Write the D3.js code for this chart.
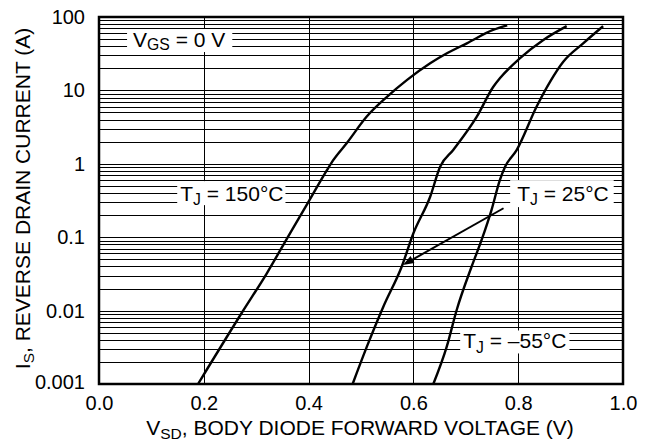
<!DOCTYPE html>
<html>
<head>
<meta charset="utf-8">
<script src="https://cdn.jsdelivr.net/npm/d3@7"></script>
<style>
  html, body { margin: 0; padding: 0; background: #fff; }
  svg { display: block; font-family: "Liberation Sans", Arial, Helvetica, sans-serif; }
</style>
</head>
<body>
<svg id="chart" width="649" height="446"></svg>
<script>
// ---- data ----
const xTicks = [0.0, 0.2, 0.4, 0.6, 0.8, 1.0];
const xTickLabels = ["0.0", "0.2", "0.4", "0.6", "0.8", "1.0"];
const yTicks = [0.001, 0.01, 0.1, 1, 10, 100];
const yTickLabels = ["0.001", "0.01", "0.1", "1", "10", "100"];

// T_J = 150 °C
const v150 = [0.189, 0.272, 0.320, 0.3645, 0.400, 0.435, 0.447, 0.473, 0.511, 0.549, 0.588, 0.632, 0.664, 0.702, 0.752, 0.779];
const i150 = [0.001, 0.0092, 0.032, 0.113, 0.305, 0.82, 1.12, 1.92, 4.4, 8.1, 13.9, 23.4, 32, 43.8, 66.6, 77];
// T_J = 25 °C
const v25 = [0.484, 0.511, 0.5426, 0.5776, 0.600, 0.632, 0.651, 0.676, 0.721, 0.7525, 0.765, 0.803, 0.848, 0.8925];
const i25 = [0.001, 0.0032, 0.0113, 0.0396, 0.113, 0.356, 0.91, 1.54, 4.38, 11.2, 14.6, 27.3, 48.6, 75];
// T_J = -55 °C
const vm55 = [0.638, 0.6635, 0.6826, 0.711, 0.730, 0.749, 0.765, 0.775, 0.797, 0.835, 0.861, 0.886, 0.924, 0.962];
const im55 = [0.001, 0.0032, 0.0102, 0.0396, 0.091, 0.234, 0.60, 0.91, 1.54, 6.0, 13.2, 24.6, 43.8, 75];

// annotation arrow (from label toward 25 °C curve), in data units
const arrowV = [0.772, 0.58];
const arrowI = [0.248, 0.0418];

// ---- layout ----
const W = 649, H = 446;
const margin = { left: 99, top: 17, right: 26, bottom: 62 };
const pw = W - margin.left - margin.right;
const ph = H - margin.top - margin.bottom;

const svg = d3.select("#chart");
const g = svg.append("g").attr("transform", `translate(${margin.left},${margin.top})`);

const x = d3.scaleLinear().domain([0, 1]).range([0, pw]);
const y = d3.scaleLog().domain([0.001, 100]).range([ph, 0]);

// horizontal grid (log minor)
const hGrid = [];
for (let e = -3; e < 2; e++) {
  for (let m = 1; m <= 9; m++) hGrid.push(m * Math.pow(10, e));
}
g.append("g").selectAll("line").data(hGrid).join("line")
  .attr("x1", 0).attr("x2", pw)
  .attr("y1", d => Math.round(y(d)) + 0.5).attr("y2", d => Math.round(y(d)) + 0.5)
  .attr("stroke", "#000").attr("stroke-width", 1);

// vertical grid
g.append("g").selectAll("line").data(xTicks.slice(1, -1)).join("line")
  .attr("x1", d => Math.round(x(d)) + 0.5).attr("x2", d => Math.round(x(d)) + 0.5)
  .attr("y1", 0).attr("y2", ph)
  .attr("stroke", "#000").attr("stroke-width", 1);

// label helper with white background box
function label(parts, vx, iy, size, padL, padR, boxTop, boxBottom) {
  const grp = g.append("g");
  const rect = grp.append("rect").attr("fill", "#fff");
  const t = grp.append("text")
    .attr("x", x(vx)).attr("y", y(iy))
    .attr("font-size", size).attr("fill", "#000");
  parts.forEach(p => {
    if (p.sub) {
      t.append("tspan").attr("font-size", size * p.sub).attr("dy", size * p.drop).text(p.t);
    } else {
      t.append("tspan").attr("dy", p.up ? -size * p.up : 0).text(p.t);
    }
  });
  const bb = t.node().getBBox();
  rect.attr("x", bb.x - padL).attr("width", bb.width + padL + padR)
      .attr("y", y(iy) - boxTop).attr("height", boxTop + boxBottom);
}

const lineGen = d3.line().x(d => x(d[0])).y(d => y(d[1])).curve(d3.curveMonotoneX);
const series = [d3.zip(v150, i150), d3.zip(v25, i25), d3.zip(vm55, im55)];

label([{t: "V"}, {t: "GS", sub: 0.75, drop: 0.12}, {t: " = 0 V", up: 0.12}], 0.065, 39, 21, 6, 7, 18, 5);
label([{t: "T"}, {t: "J", sub: 0.75, drop: 0.2}, {t: " = 150°C", up: 0.2}], 0.155, 0.31, 21, 3, 2, 20, 4);
label([{t: "T"}, {t: "J", sub: 0.75, drop: 0.2}, {t: " = 25°C", up: 0.2}], 0.798, 0.31, 21, 7, 5, 21, 6);
label([{t: "T"}, {t: "J", sub: 0.75, drop: 0.2}, {t: " = \u201355°C", up: 0.2}], 0.695, 0.00305, 21, 3, 3, 18, 5);

g.append("g").selectAll("path").data(series).join("path")
  .attr("d", lineGen)
  .attr("fill", "none").attr("stroke", "#000").attr("stroke-width", 2.4)
  .attr("stroke-linejoin", "round");

// arrow
const ax0 = x(arrowV[0]), ay0 = y(arrowI[0]), ax1 = x(arrowV[1]), ay1 = y(arrowI[1]);
const ang = Math.atan2(ay1 - ay0, ax1 - ax0);
const hl = 11, hw = 4;
const bx = ax1 - hl * Math.cos(ang), by = ay1 - hl * Math.sin(ang);
g.append("line").attr("x1", ax0).attr("y1", ay0).attr("x2", bx).attr("y2", by)
  .attr("stroke", "#000").attr("stroke-width", 2);
g.append("path")
  .attr("d", `M${ax1},${ay1} L${bx + hw * Math.sin(ang)},${by - hw * Math.cos(ang)} L${bx - hw * Math.sin(ang)},${by + hw * Math.cos(ang)} Z`)
  .attr("fill", "#000");

// frame
g.append("rect").attr("x", 0).attr("y", 0).attr("width", pw).attr("height", ph)
  .attr("fill", "none").attr("stroke", "#000").attr("stroke-width", 2.5);

// axes tick labels (via d3 axes, domain/ticks hidden)
const xAxis = d3.axisBottom(x).tickValues(xTicks).tickFormat((d, i) => xTickLabels[i]).tickSize(0).tickPadding(12);
const xa = g.append("g").attr("transform", `translate(0,${ph})`).call(xAxis);
xa.select(".domain").remove();
xa.selectAll("text").attr("font-size", 20).attr("font-family", "Liberation Sans, Arial, sans-serif").attr("fill", "#000");

const yAxis = d3.axisLeft(y).tickValues(yTicks).tickFormat((d, i) => yTickLabels[i]).tickSize(0).tickPadding(14);
const ya = g.append("g").call(yAxis);
ya.select(".domain").remove();
ya.selectAll("text").attr("font-size", 20).attr("font-family", "Liberation Sans, Arial, sans-serif").attr("fill", "#000");
ya.selectAll(".tick").filter(d => d === 0.001).select("text").attr("dy", "0.2em");

// axis titles
const xt = svg.append("text").attr("x", margin.left + pw / 2 - 1).attr("y", 435)
  .attr("text-anchor", "middle").attr("font-size", 21).attr("fill", "#000");
xt.append("tspan").text("V");
xt.append("tspan").attr("font-size", 15.5).attr("dy", 4).text("SD");
xt.append("tspan").attr("dy", -4).text(", BODY DIODE FORWARD VOLTAGE (V)");

const yt = svg.append("text")
  .attr("transform", `translate(30,${margin.top + ph / 2 - 2}) rotate(-90)`)
  .attr("text-anchor", "middle").attr("font-size", 21).attr("fill", "#000");
yt.append("tspan").text("I");
yt.append("tspan").attr("font-size", 15.5).attr("dy", 4).text("S");
yt.append("tspan").attr("dy", -4).text(", REVERSE DRAIN CURRENT (A)");
</script>
</body>
</html>
